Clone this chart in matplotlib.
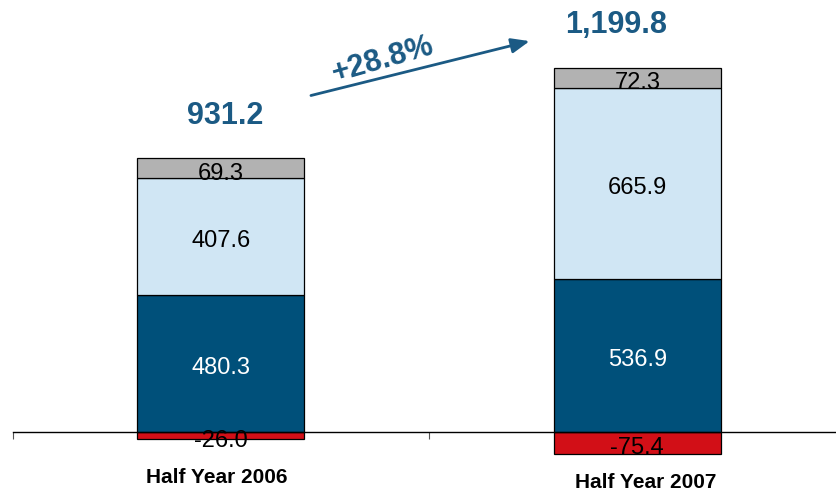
import matplotlib
matplotlib.use("Agg")
import matplotlib.pyplot as plt
import numpy as np

# Data
categories = ["Half Year 2006", "Half Year 2007"]
negative_part = [-26.0, -75.4]
dark_part = [480.3, 536.9]
light_part = [407.6, 665.9]
grey_part = [69.3, 72.3]
totals = [931.2, 1199.8]
growth_label = "+28.8%"

plt.rcParams['font.family'] = ['Liberation Sans', 'DejaVu Sans']

DARK = '#00507a'
LIGHT = '#d0e6f4'
GREY = '#b2b2b2'
RED = '#d20f17'
TITLE_BLUE = '#1b5a84'

fig = plt.figure(figsize=(8.36, 4.91), dpi=100)
ax = fig.add_axes([0.015, 0.0, 0.9964, 1.0])

x = np.arange(len(categories))
w = 0.40
edge = dict(edgecolor='black', linewidth=0.9)

dark = np.array(dark_part)
light = np.array(light_part)
grey = np.array(grey_part)
neg = np.array(negative_part)

ax.bar(x, neg, w, color=RED, **edge)
ax.bar(x, dark, w, color=DARK, **edge)
ax.bar(x, light, w, bottom=dark, color=LIGHT, **edge)
ax.bar(x, grey, w, bottom=dark + light, color=GREY, **edge)

# segment labels (sit slightly below the segment middle, like the original)
off = 16
for i in range(len(x)):
    ax.text(x[i], dark[i] / 2 - off, f"{dark[i]:.1f}", ha='center', va='center',
            fontsize=17, color='white')
    ax.text(x[i], dark[i] + light[i] / 2 - off, f"{light[i]:.1f}", ha='center',
            va='center', fontsize=17, color='black')
    ax.text(x[i], dark[i] + light[i] + grey[i] / 2 - 19, f"{grey[i]:.1f}", ha='center',
            va='center', fontsize=17, color='black')
    ax.text(x[i], neg[i] / 2 - 18, f"{neg[i]:.1f}", ha='center', va='center',
            fontsize=17, color='black')

# totals above bars
tops = dark + light + grey
dx = [0.01, -0.05]
for i in range(len(x)):
    ax.text(x[i] + dx[i], tops[i] + 150, f"{totals[i]:,.1f}", ha='center', va='center',
            fontsize=22, fontweight='bold', color=TITLE_BLUE)

# growth arrow
ax.annotate("", xy=(0.748, 1370), xytext=(0.21, 1175),
            arrowprops=dict(arrowstyle='-|>,head_length=1.1,head_width=0.45',
                            color=TITLE_BLUE, lw=2))
ax.text(0.39, 1302, growth_label, ha='center', va='center', rotation=16,
        fontsize=22, fontweight='bold', color=TITLE_BLUE)

# category labels
label_y = [-160, -178]
for i in range(len(x)):
    ax.text(x[i] - 0.01 + 0.03 * i, label_y[i], categories[i], ha='center', va='center',
            fontsize=15, fontweight='bold', color='black')

ax.set_xlim(-0.5, 1.5)
ax.set_ylim(-206.4, 1511.5)

for s in ['top', 'right', 'left']:
    ax.spines[s].set_visible(False)
ax.spines['bottom'].set_position(('data', 0))
ax.spines['bottom'].set_linewidth(1.0)
ax.set_xticks([-0.5, 0.5, 1.5])
ax.set_xticklabels([])
ax.tick_params(axis='x', direction='out', length=5, width=0.8, color='#555555')
ax.set_yticks([])
ax.patch.set_visible(False)

fig.savefig("out.png", dpi=100)
